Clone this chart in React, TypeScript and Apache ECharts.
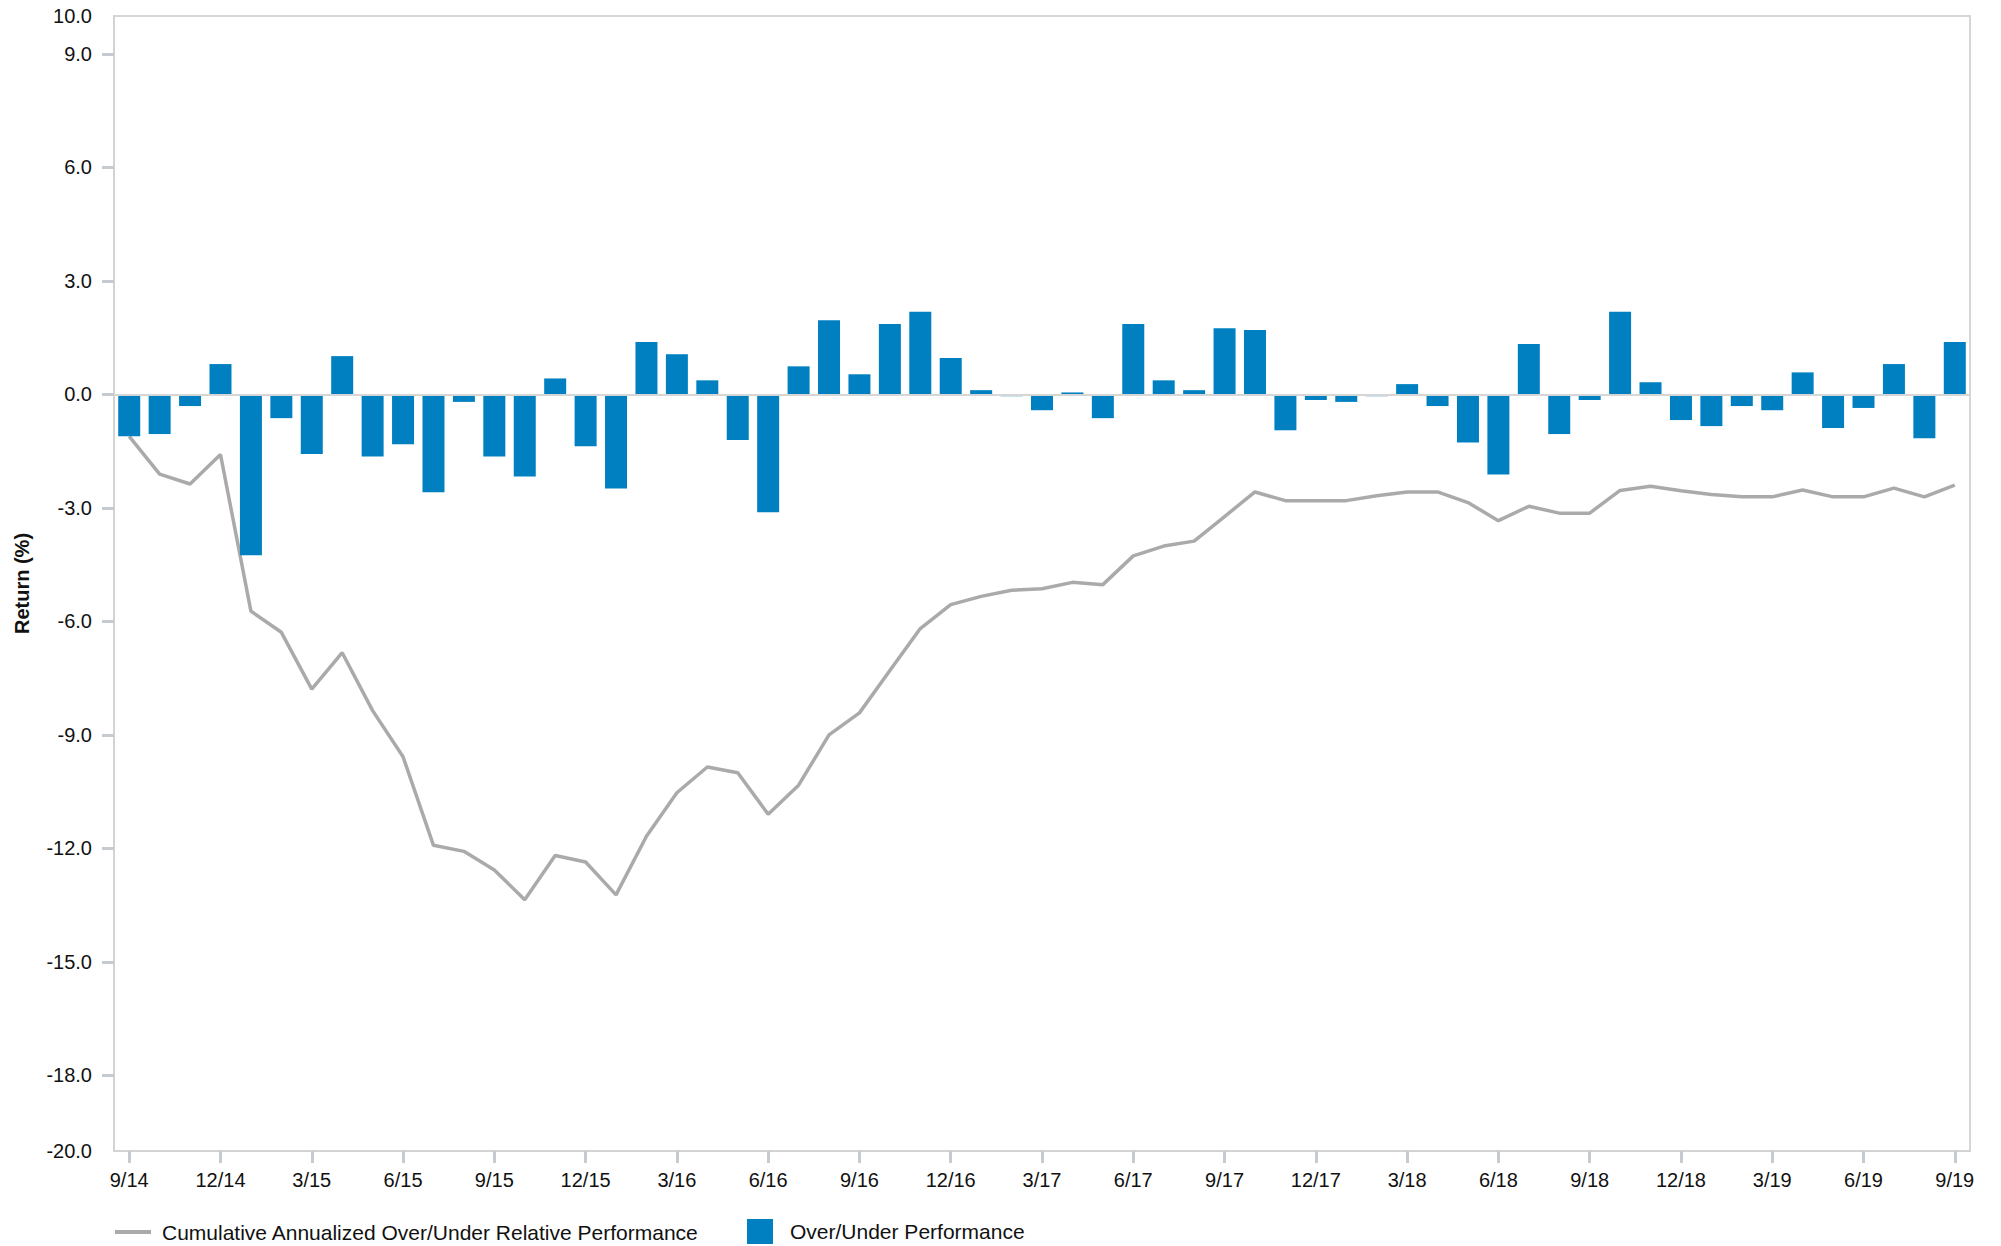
import React, { useEffect, useRef } from "react";
import * as echarts from "echarts";

const months = [
  "9/14","10/14","11/14","12/14","1/15","2/15","3/15","4/15","5/15","6/15","7/15","8/15",
  "9/15","10/15","11/15","12/15","1/16","2/16","3/16","4/16","5/16","6/16","7/16","8/16",
  "9/16","10/16","11/16","12/16","1/17","2/17","3/17","4/17","5/17","6/17","7/17","8/17",
  "9/17","10/17","11/17","12/17","1/18","2/18","3/18","4/18","5/18","6/18","7/18","8/18",
  "9/18","10/18","11/18","12/18","1/19","2/19","3/19","4/19","5/19","6/19","7/19","8/19",
  "9/19",
];

const overUnder = [
  -1.11, -1.05, -0.31, 0.80, -4.25, -0.63, -1.58, 1.01, -1.64, -1.32, -2.59, -0.20,
  -1.64, -2.17, 0.42, -1.37, -2.49, 1.38, 1.06, 0.37, -1.21, -3.12, 0.74, 1.96,
  0.53, 1.86, 2.18, 0.96, 0.11, -0.05, -0.42, 0.05, -0.63, 1.86, 0.37, 0.11,
  1.75, 1.70, -0.95, -0.15, -0.20, -0.05, 0.27, -0.31, -1.27, -2.12, 1.33, -1.05,
  -0.15, 2.18, 0.32, -0.68, -0.84, -0.31, -0.42, 0.58, -0.89, -0.36, 0.80, -1.16,
  1.38,
];

const cumulative = [
  -1.11, -2.11, -2.37, -1.59, -5.73, -6.29, -7.79, -6.83, -8.36, -9.58, -11.92, -12.08,
  -12.57, -13.36, -12.19, -12.36, -13.23, -11.68, -10.53, -9.85, -10.0, -11.10, -10.33, -9.0,
  -8.42, -7.30, -6.19, -5.56, -5.34, -5.18, -5.14, -4.97, -5.03, -4.27, -4.01, -3.88,
  -3.23, -2.58, -2.81, -2.81, -2.81, -2.68, -2.58, -2.58, -2.86, -3.34, -2.96, -3.14,
  -3.14, -2.54, -2.43, -2.55, -2.65, -2.71, -2.71, -2.53, -2.71, -2.71, -2.48, -2.71,
  -2.40,
];

const yLabelValues = [-20, -18, -15, -12, -9, -6, -3, 0, 3, 6, 9, 10];
const yTickValues = [-18, -15, -12, -9, -6, -3, 0, 3, 6, 9];

const LINE_NAME = "Cumulative Annualized Over/Under Relative Performance";
const BAR_NAME = "Over/Under Performance";

const FONT = '"Liberation Sans", Arial, Helvetica, sans-serif';

export default function App() {
  const ref = useRef<HTMLDivElement>(null);

  useEffect(() => {
    if (!ref.current) return;
    const chart = echarts.init(ref.current, undefined, { renderer: "svg" });
    chart.setOption({
      animation: false,
      backgroundColor: "#ffffff",
      textStyle: { fontFamily: FONT },
      grid: {
        left: 114,
        right: 31,
        top: 16,
        bottom: 95,
        show: true,
        borderColor: "#d6d6d6",
        borderWidth: 2,
        containLabel: false,
      },
      legend: [
        {
          data: [{ name: LINE_NAME, icon: "rect" }],
          left: 115,
          top: 1221,
          itemWidth: 36,
          itemHeight: 4,
          padding: 0,
          textStyle: {
            fontSize: 21,
            lineHeight: 22,
            color: "#111",
            fontFamily: FONT,
            padding: [0, 0, 0, 6],
          },
          selectedMode: false,
        },
        {
          data: [{ name: BAR_NAME, icon: "rect" }],
          left: 747,
          top: 1219,
          itemWidth: 26,
          itemHeight: 25,
          padding: 0,
          textStyle: {
            fontSize: 21,
            lineHeight: 22,
            color: "#111",
            fontFamily: FONT,
            padding: [0, 0, 0, 12],
          },
          selectedMode: false,
        },
      ],
      xAxis: {
        type: "category",
        data: months,
        boundaryGap: true,
        axisLine: { show: true, onZero: false, lineStyle: { color: "#d3d3d3", width: 2 } },
        axisTick: {
          show: true,
          alignWithLabel: true,
          interval: 2,
          length: 12,
          lineStyle: { color: "#c5cbd1", width: 3 },
        },
        axisLabel: {
          interval: 2,
          fontSize: 20,
          color: "#111",
          margin: 19,
          fontFamily: FONT,
        },
        splitLine: { show: false },
      },
      yAxis: {
        type: "value",
        min: -20,
        max: 10,
        name: "Return (%)",
        nameLocation: "middle",
        nameRotate: 90,
        nameGap: 82,
        nameTextStyle: { fontSize: 20, fontWeight: "bold", color: "#111", fontFamily: FONT },
        axisLine: { show: true, lineStyle: { color: "#d3d3d3", width: 2 } },
        axisTick: {
          show: true,
          length: 12,
          customValues: yTickValues,
          lineStyle: { color: "#c5cbd1", width: 3 },
        },
        axisLabel: {
          customValues: yLabelValues,
          fontSize: 20,
          color: "#111",
          margin: 22,
          fontFamily: FONT,
          formatter: (v: number) => v.toFixed(1),
        },
        splitLine: { show: false },
      },
      series: [
        {
          name: LINE_NAME,
          type: "line",
          data: cumulative,
          symbol: "none",
          showSymbol: false,
          lineStyle: { color: "#aaaaaa", width: 3.5 },
          itemStyle: { color: "#aaaaaa" },
          z: 2,
        },
        {
          name: BAR_NAME,
          type: "bar",
          data: overUnder,
          barWidth: 22,
          itemStyle: { color: "#0080c0" },
          z: 3,
          markLine: {
            silent: true,
            symbol: "none",
            label: { show: false },
            lineStyle: { color: "#d6d6d6", width: 2, type: "solid" },
            data: [{ yAxis: 0 }],
            z: 5,
          },
        },
      ],
    });
    return () => chart.dispose();
  }, []);

  return (
    <div
      ref={ref}
      style={{ position: "fixed", left: 0, top: 0, width: "2001px", height: "1246px" }}
    />
  );
}
